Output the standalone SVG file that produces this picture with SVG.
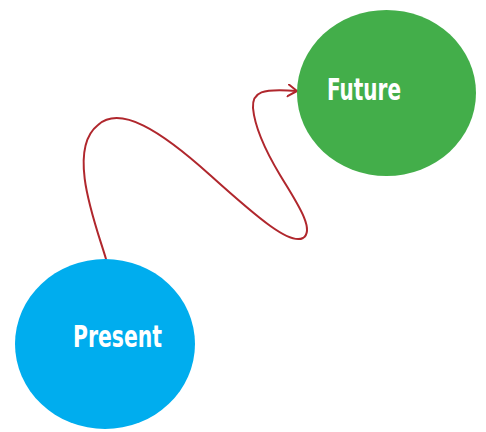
<svg xmlns="http://www.w3.org/2000/svg" width="486" height="432" viewBox="0 0 486 432">
<style>
.lbl{font-family:"Liberation Sans Narrow","DejaVu Sans Condensed","Liberation Sans",sans-serif;font-weight:bold;fill:#ffffff}
.conn{fill:none;stroke:#b0272d;stroke-width:2;stroke-linecap:round;stroke-linejoin:round}
</style>
<defs>
<marker id="arrow" markerWidth="14" markerHeight="14" refX="10" refY="6" orient="auto" markerUnits="userSpaceOnUse">
<path d="M1,0 L10,6 L1,12" fill="none" stroke="#b0272d" stroke-width="2" stroke-linecap="round" stroke-linejoin="round"/>
</marker>
</defs>
<rect width="486" height="432" fill="#ffffff"/>
<g id="connectors">
<path class="conn" marker-end="url(#arrow)" d="M 106 259 C 96 225, 66 150, 98 125 C 120 105, 160 130, 210 175 C 260 220, 290 245, 303 238 C 316 230, 295 200, 280 175 C 268 155, 255 130, 253 108 C 252 92, 262 88, 297 91"/>
</g>
<g id="future">
<ellipse cx="386.5" cy="93" rx="89.5" ry="83" fill="#43ae4a"/>
<text class="lbl" x="327" y="100" font-size="31" textLength="74" lengthAdjust="spacingAndGlyphs">Future</text>
</g>
<g id="present">
<ellipse cx="105" cy="344" rx="90" ry="85" fill="#00adee"/>
<text class="lbl" x="73" y="347" font-size="30" textLength="89" lengthAdjust="spacingAndGlyphs">Present</text>
</g>
</svg>
